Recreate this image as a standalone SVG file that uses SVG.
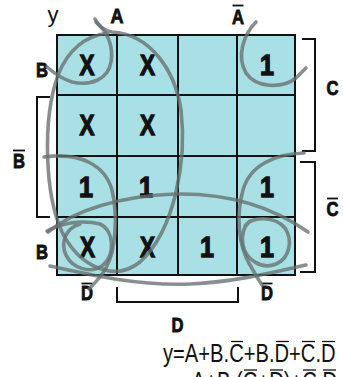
<svg xmlns="http://www.w3.org/2000/svg" width="343" height="377" viewBox="0 0 343 377">
<style>
.cell{font-family:"Liberation Sans",Arial,sans-serif;font-weight:bold;font-size:29px;fill:#111;stroke:#111;stroke-width:1.3;text-anchor:middle}
.lbl{font-family:"Liberation Sans",Arial,sans-serif;font-weight:bold;font-size:21px;fill:#111;stroke:#111;stroke-width:0.9;text-anchor:middle}
.eq{font-family:"Liberation Sans",Arial,sans-serif;font-size:25px;fill:#111}
.grid{stroke:#111;stroke-width:2;fill:none}
.br{stroke:#111;stroke-width:2;fill:none}
.bar{stroke:#111;stroke-width:1.8}
.bar2{stroke:#111;stroke-width:1.3}
.loop{stroke:#66716f;stroke-width:3.6;fill:none;stroke-linecap:round;opacity:0.78}
</style>
<rect width="343" height="377" fill="#ffffff"/>
<g id="map">
<rect x="57" y="35" width="238" height="240" fill="#a8e0e5"/>
<path class="grid" d="M57,35H295V275H57Z M117,35V275 M178,35V275 M237,35V275 M57,95H295 M57,156H295 M57,217H295"/>
</g>
<g id="cells">
<g id="r1c1"><text class="cell" x="87" y="75" textLength="15" lengthAdjust="spacingAndGlyphs">X</text></g>
<g id="r1c2"><text class="cell" x="147.5" y="75" textLength="15" lengthAdjust="spacingAndGlyphs">X</text></g>
<g id="r1c4"><text class="cell" x="267" y="75" textLength="14" lengthAdjust="spacingAndGlyphs">1</text></g>
<g id="r2c1"><text class="cell" x="87" y="135" textLength="15" lengthAdjust="spacingAndGlyphs">X</text></g>
<g id="r2c2"><text class="cell" x="147.5" y="135" textLength="15" lengthAdjust="spacingAndGlyphs">X</text></g>
<g id="r3c1"><text class="cell" x="86" y="197" textLength="14" lengthAdjust="spacingAndGlyphs">1</text></g>
<g id="r3c2"><text class="cell" x="146" y="197" textLength="14" lengthAdjust="spacingAndGlyphs">1</text></g>
<g id="r3c4"><text class="cell" x="267" y="197" textLength="14" lengthAdjust="spacingAndGlyphs">1</text></g>
<g id="r4c1"><text class="cell" x="87.5" y="257" textLength="15" lengthAdjust="spacingAndGlyphs">X</text></g>
<g id="r4c2"><text class="cell" x="147.5" y="257" textLength="15" lengthAdjust="spacingAndGlyphs">X</text></g>
<g id="r4c3"><text class="cell" x="207" y="257" textLength="14" lengthAdjust="spacingAndGlyphs">1</text></g>
<g id="r4c4"><text class="cell" x="267" y="257" textLength="14" lengthAdjust="spacingAndGlyphs">1</text></g>
</g>
<g id="labels">
<text x="53" y="22" style="font-family:'Liberation Sans',Arial,sans-serif;font-size:22px;fill:#111;text-anchor:middle">y</text>
<text class="lbl" x="117" y="23" textLength="13" lengthAdjust="spacingAndGlyphs">A</text>
<g id="notA"><text class="lbl" x="238" y="23.5" textLength="12" lengthAdjust="spacingAndGlyphs">A</text><line class="bar" x1="232.5" y1="5.5" x2="243.5" y2="5.5"/></g>
<text class="lbl" x="42" y="77" textLength="12" lengthAdjust="spacingAndGlyphs">B</text>
<g id="notB"><text class="lbl" x="19" y="168" textLength="12" lengthAdjust="spacingAndGlyphs">B</text><line class="bar" x1="13" y1="150.5" x2="25" y2="150.5"/></g>
<text class="lbl" x="42" y="259" textLength="12" lengthAdjust="spacingAndGlyphs">B</text>
<text class="lbl" x="332.5" y="95" textLength="12" lengthAdjust="spacingAndGlyphs">C</text>
<g id="notC"><text class="lbl" x="332.5" y="216" textLength="12" lengthAdjust="spacingAndGlyphs">C</text><line class="bar" x1="327" y1="198.5" x2="338" y2="198.5"/></g>
<g id="notD1"><text class="lbl" x="87" y="300" textLength="12" lengthAdjust="spacingAndGlyphs">D</text><line class="bar" x1="81.5" y1="283.5" x2="92.5" y2="283.5"/></g>
<g id="notD2"><text class="lbl" x="267" y="300" textLength="12" lengthAdjust="spacingAndGlyphs">D</text><line class="bar" x1="261.5" y1="283.5" x2="272.5" y2="283.5"/></g>
<text class="lbl" x="177.5" y="332" textLength="12" lengthAdjust="spacingAndGlyphs">D</text>
</g>
<g id="brackets">
<path class="br" d="M302,39H315V151H302"/>
<path class="br" d="M300,162H315V272H300"/>
<path class="br" d="M50,97H37V217H50"/>
<path class="br" d="M117,287V302H238V287"/>
</g>
<g id="loops">
<path class="loop" d="M95,19 Q100,30 112,32 C150,34 175,70 181,110 C187,160 175,230 140,262 C115,282 80,268 62,232 C45,195 42,120 58,75 C68,50 85,36 108,33"/>
<path class="loop" d="M96,22 C106,30 114,45 111,62 C108,80 90,86 72,82 C62,79 54,73 47,67"/>
<path class="loop" d="M256,22 C244,34 236,56 246,73 C256,88 282,89 296,78 L306,68"/>
<path class="loop" d="M44,157 C80,152 105,165 112,190 C118,215 116,250 106,268 C101,277 95,283 89,289"/>
<path class="loop" d="M304,153 C275,154 250,165 243,190 C236,215 238,245 250,265 C254,272 258,279 262,285"/>
<path class="loop" d="M48,232 C75,210 120,196 175,194 C225,193 270,205 308,232"/>
<path class="loop" d="M50,266 C95,276 140,286 190,284 C235,282 275,272 306,265"/>
<path class="loop" d="M47,231 C60,224 80,219 100,224 C114,230 116,255 102,266 C90,274 72,268 66,255 C60,242 66,228 80,224"/>
<path class="loop" d="M245,226 C252,216 275,216 285,228 C293,240 290,258 276,264 C262,270 246,260 243,245 C241,235 244,226 250,221"/>
</g>
<g id="formula">
<text class="eq" transform="translate(163,362) scale(0.807,1)">y=A+B.C+B.D+C.D</text>
<line class="bar2" x1="231" y1="341.5" x2="243" y2="341.5"/>
<line class="bar2" x1="276" y1="341.5" x2="289" y2="341.5"/>
<line class="bar2" x1="302" y1="341.5" x2="315" y2="341.5"/>
<line class="bar2" x1="322" y1="341.5" x2="335" y2="341.5"/>
<text class="eq" x="180" y="390" textLength="157" lengthAdjust="spacingAndGlyphs">=A+B.(C+D)+C.D</text>
<line class="bar2" x1="244" y1="370" x2="257" y2="370"/>
<line class="bar2" x1="270" y1="370" x2="283" y2="370"/>
<line class="bar2" x1="303" y1="370" x2="316" y2="370"/>
<line class="bar2" x1="323" y1="370" x2="336" y2="370"/>
</g>
</svg>
